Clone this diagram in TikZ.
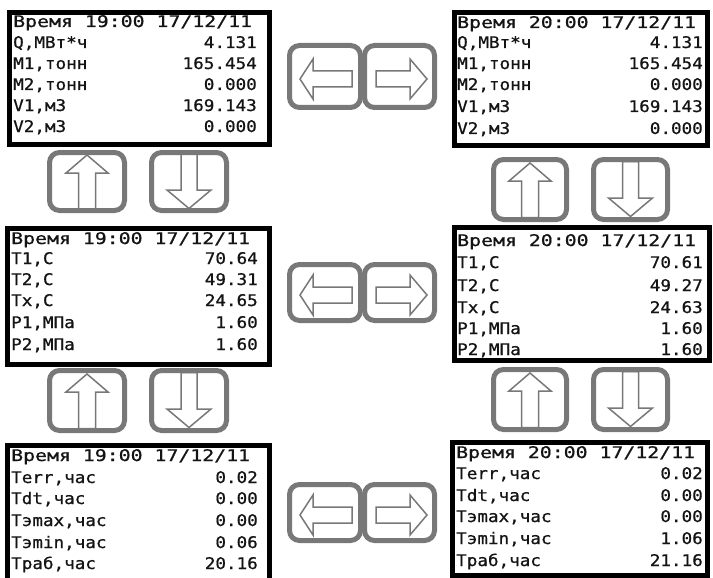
\documentclass[tikz,border=0pt]{standalone}
\usepackage{fontspec}
\newfontfamily\lcdfont[FakeStretch=1.1,FakeBold=0.8]{DejaVu Sans Mono}
\newfontfamily\lcdhead[FakeStretch=1.24,FakeBold=0.8]{DejaVu Sans Mono}
\definecolor{btngray}{RGB}{120,120,120}
\definecolor{lcdink}{RGB}{20,20,20}
\tikzset{
  screen/.style={draw=black, line width=5pt, inner sep=0pt},
  btn/.style={draw=btngray, line width=5pt, rounded corners=10pt, inner sep=0pt},
  arr/.style={draw=btngray, line width=1.5pt, line join=miter},
  lbl/.style={anchor=base west, inner sep=0pt, text=lcdink, font=\lcdfont\fontsize{16}{18}\selectfont},
  val/.style={anchor=base east, inner sep=0pt, text=lcdink, font=\lcdfont\fontsize{16}{18}\selectfont},
  hdr/.style={anchor=base west, inner sep=0pt, text=lcdink, font=\lcdhead\fontsize{16}{18}\selectfont},
}
% name, xleft, xright, ycenter, label, value
\newcommand\lcdrow[6]{%
  \node[lbl] (#1l) at (#2,#4+6) {#5};
  \node[val] (#1v) at (#3,#4+6) {#6};}
\newcommand\leftarr[1]{\draw[arr, shift={(#1.center)}] (-25,2.5) -- (-12,-17.5) -- (-12,-5.5) -- (27,-5.5) -- (27,10.5) -- (-12,10.5) -- (-12,22.5) -- cycle;}
\newcommand\rightarr[1]{\draw[arr, shift={(#1.center)}] (27.5,2.5) -- (10.5,-17.5) -- (10.5,-5.5) -- (-23.5,-5.5) -- (-23.5,10.5) -- (10.5,10.5) -- (10.5,22.5) -- cycle;}
\newcommand\uparr[1]{\draw[arr, shift={(#1.center)}] (0,-26.5) -- (21,-8.5) -- (8.5,-8.5) -- (8.5,28) -- (-8.5,28) -- (-8.5,-8.5) -- (-21,-8.5) -- cycle;}
\newcommand\downarr[1]{\draw[arr, shift={(#1.center)}] (0,27) -- (22,8.5) -- (8,8.5) -- (8,-28) -- (-8,-28) -- (-8,8.5) -- (-22,8.5) -- cycle;}
\begin{document}
\begin{tikzpicture}[x=1pt, y=-1pt]
\useasboundingbox (0,0) rectangle (713,578);
\fill[white] (0,0) rectangle (713,578);

% ---- screen 1 (top left)
\node[hdr] (h1) at (13,21+6) {Время 19:00 17/12/11};
\lcdrow{a1}{13}{257}{42}{Q,МВт*ч}{4.131}
\lcdrow{a2}{13}{257}{63}{M1,тонн}{165.454}
\lcdrow{a3}{13}{257}{84}{M2,тонн}{0.000}
\lcdrow{a4}{13}{257}{105}{V1,м3}{169.143}
\lcdrow{a5}{13}{257}{126}{V2,м3}{0.000}
\node[screen, minimum width=260pt, minimum height=132pt] (s1) at (139.5,78.5) {};

% ---- screen 2 (top right)
\node[hdr] (h2) at (457,22+6) {Время 20:00 17/12/11};
\lcdrow{b1}{457}{703}{42}{Q,МВт*ч}{4.131}
\lcdrow{b2}{457}{703}{63}{M1,тонн}{165.454}
\lcdrow{b3}{457}{703}{84}{M2,тонн}{0.000}
\lcdrow{b4}{457}{703}{106}{V1,м3}{169.143}
\lcdrow{b5}{457}{703}{128}{V2,м3}{0.000}
\node[screen, minimum width=253pt, minimum height=133pt] (s2) at (581,79) {};

% ---- screen 3 (middle left)
\node[hdr] (h3) at (11,238+6) {Время 19:00 17/12/11};
\lcdrow{c1}{11}{258}{258}{T1,C}{70.64}
\lcdrow{c2}{11}{258}{279}{T2,C}{49.31}
\lcdrow{c3}{11}{258}{300}{Tx,C}{24.65}
\lcdrow{c4}{11}{258}{322}{P1,МПа}{1.60}
\lcdrow{c5}{11}{258}{344}{P2,МПа}{1.60}
\node[screen, minimum width=262pt, minimum height=136pt] (s3) at (138.5,296.5) {};

% ---- screen 4 (middle right)
\node[hdr] (h4) at (457,240+6) {Время 20:00 17/12/11};
\lcdrow{d1}{457}{703}{262}{T1,C}{70.61}
\lcdrow{d2}{457}{703}{285}{T2,C}{49.27}
\lcdrow{d3}{457}{703}{307}{Tx,C}{24.63}
\lcdrow{d4}{457}{703}{328}{P1,МПа}{1.60}
\lcdrow{d5}{457}{703}{349}{P2,МПа}{1.60}
\node[screen, minimum width=255pt, minimum height=133pt] (s4) at (582,294) {};

% ---- screen 5 (bottom left)
\node[hdr] (h5) at (11,455+6) {Время 19:00 17/12/11};
\lcdrow{e1}{11}{258}{477}{Terr,час}{0.02}
\lcdrow{e2}{11}{258}{498}{Tdt,час}{0.00}
\lcdrow{e3}{11}{258}{520}{Tэmax,час}{0.00}
\lcdrow{e4}{11}{258}{542}{Tэmin,час}{0.06}
\lcdrow{e5}{11}{258}{563}{Tраб,час}{20.16}
\node[screen, minimum width=262pt, minimum height=135pt] (s5) at (138.5,513) {};

% ---- screen 6 (bottom right)
\node[hdr] (h6) at (456,452+6) {Время 20:00 17/12/11};
\lcdrow{f1}{456}{703}{473}{Terr,час}{0.02}
\lcdrow{f2}{456}{703}{495}{Tdt,час}{0.00}
\lcdrow{f3}{456}{703}{516}{Tэmax,час}{0.00}
\lcdrow{f4}{456}{703}{538}{Tэmin,час}{1.06}
\lcdrow{f5}{456}{703}{560}{Tраб,час}{21.16}
\node[screen, minimum width=255pt, minimum height=133pt] (s6) at (580,509) {};

% ---- left / right buttons
\node[btn, minimum width=71pt, minimum height=62pt] (lr1l) at (325,76.5) {};
\node[btn, minimum width=70pt, minimum height=62pt] (lr1r) at (399.5,76.5) {};
\node[btn, minimum width=71pt, minimum height=56pt] (lr2l) at (325,292.5) {};
\node[btn, minimum width=70pt, minimum height=56pt] (lr2r) at (399.5,292.5) {};
\node[btn, minimum width=71pt, minimum height=56pt] (lr3l) at (325,512.5) {};
\node[btn, minimum width=70pt, minimum height=56pt] (lr3r) at (399.5,512.5) {};
\leftarr{lr1l}\rightarr{lr1r}
\leftarr{lr2l}\rightarr{lr2r}
\leftarr{lr3l}\rightarr{lr3r}

% ---- up / down buttons
\node[btn, minimum width=75pt, minimum height=58pt] (ud1u) at (87,181.5) {};
\node[btn, minimum width=75pt, minimum height=58pt] (ud1d) at (189,181.5) {};
\node[btn, minimum width=75pt, minimum height=60pt] (ud2u) at (87,400.5) {};
\node[btn, minimum width=75pt, minimum height=60pt] (ud2d) at (189,400.5) {};
\node[btn, minimum width=73pt, minimum height=60pt] (ud3u) at (530,189.5) {};
\node[btn, minimum width=74pt, minimum height=60pt] (ud3d) at (630.5,189.5) {};
\node[btn, minimum width=73pt, minimum height=60pt] (ud4u) at (530,399.5) {};
\node[btn, minimum width=74pt, minimum height=60pt] (ud4d) at (630.5,399.5) {};
\uparr{ud1u}\downarr{ud1d}
\uparr{ud2u}\downarr{ud2d}
\uparr{ud3u}\downarr{ud3d}
\uparr{ud4u}\downarr{ud4d}
\end{tikzpicture}
\end{document}
